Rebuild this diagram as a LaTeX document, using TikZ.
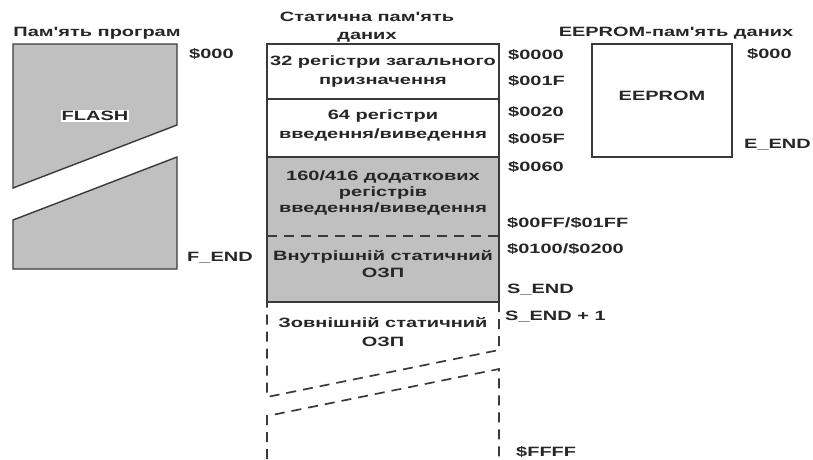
\documentclass[tikz,border=0pt]{standalone}
\usepackage{fontspec}
\newfontfamily\mapfont[FakeStretch=1.48]{Liberation Sans}
\usetikzlibrary{positioning}
\definecolor{zona}{HTML}{C0C0C0}
\definecolor{linea}{HTML}{3A3A3A}
\tikzset{
  etiqueta/.style={font=\mapfont\bfseries\fontsize{13.5}{16}\selectfont, inner sep=0pt, text=black!85},
  direccion/.style={etiqueta, anchor=west, text height=9.6pt, text depth=0pt},
  bloque/.style={etiqueta, align=center},
  borde/.style={draw=linea, line width=1.4pt},
  discontinua/.style={draw=linea, line width=1.7pt, dash pattern=on 10pt off 7pt}
}

\begin{document}
\begin{tikzpicture}[x=1pt, y=-1pt]
        \useasboundingbox (0,0) rectangle (813,459);

        % ==========================================
        % 1. Memoria de programa (FLASH)
        % ==========================================
        \node[etiqueta] (tituloFlash) at (97, 33) {Пам'ять програм};

        \filldraw[borde, fill=zona] (13, 44) -- (177, 44) -- (177, 125) -- (13, 188) -- cycle;
        \filldraw[borde, fill=zona] (13, 220) -- (177, 157) -- (177, 269) -- (13, 269) -- cycle;
        \node[etiqueta, fill=white, inner sep=1pt] (flash) at (95, 116) {FLASH};

        \node[direccion] (f000) at (189, 54) {\$000};
        \node[direccion] (fend) at (187, 257) {F\_END};

        % ==========================================
        % 2. Memoria estatica de datos (SRAM)
        % ==========================================
        \node[bloque] (tituloSram) at (367, 27) {Статична пам'ять\\[2pt]даних};

        \fill[zona] (267, 157) rectangle (499, 302);
        \draw[borde] (267, 99) -- (499, 99);
        \draw[borde] (267, 157) -- (499, 157);
        \draw[discontinua] (267, 236) -- (499, 236);
        \draw[borde] (267, 44) rectangle (499, 302);

        \node[bloque] (regGen) at (383, 72) {32 регістри загального\\[3pt]призначення};
        \node[bloque] (regIo) at (383, 125) {64 регістри\\[3pt]введення/виведення};
        \node[bloque] (regExt) at (383, 193) {160/416 додаткових\\регістрів\\введення/виведення};
        \node[bloque] (ozpInt) at (383, 264) {Внутрішній статичний\\[1pt]ОЗП};

        % Zona externa (discontinua)
        \draw[discontinua] (499, 302) -- (499, 350) -- (267, 397) -- (267, 302);
        \draw[discontinua] (267, 459) -- (267, 416) -- (499, 369) -- (499, 459);
        \node[bloque] (ozpExt) at (383, 332) {Зовнішній статичний\\[3pt]ОЗП};

        % Direcciones
        \node[direccion] (a0000) at (508, 55) {\$0000};
        \node[direccion] (a001F) at (508, 81) {\$001F};
        \node[direccion] (a0020) at (508, 112) {\$0020};
        \node[direccion] (a005F) at (508, 139) {\$005F};
        \node[direccion] (a0060) at (508, 167) {\$0060};
        \node[direccion] (a00FF) at (507, 223) {\$00FF/\$01FF};
        \node[direccion] (a0100) at (507, 249) {\$0100/\$0200};
        \node[direccion] (send) at (507, 289) {S\_END};
        \node[direccion] (sendUno) at (505, 316) {S\_END + 1};
        \node[direccion] (aFFFF) at (516, 452) {\$FFFF};

        % ==========================================
        % 3. Memoria EEPROM de datos
        % ==========================================
        \node[etiqueta] (tituloEeprom) at (676, 33) {EEPROM-пам'ять даних};

        \draw[borde] (592, 44) rectangle (732, 157);
        \node[etiqueta] (eeprom) at (662, 96) {EEPROM};

        \node[direccion] (e000) at (747, 54) {\$000};
        \node[direccion] (eend) at (744, 144) {E\_END};

\end{tikzpicture}
\end{document}
